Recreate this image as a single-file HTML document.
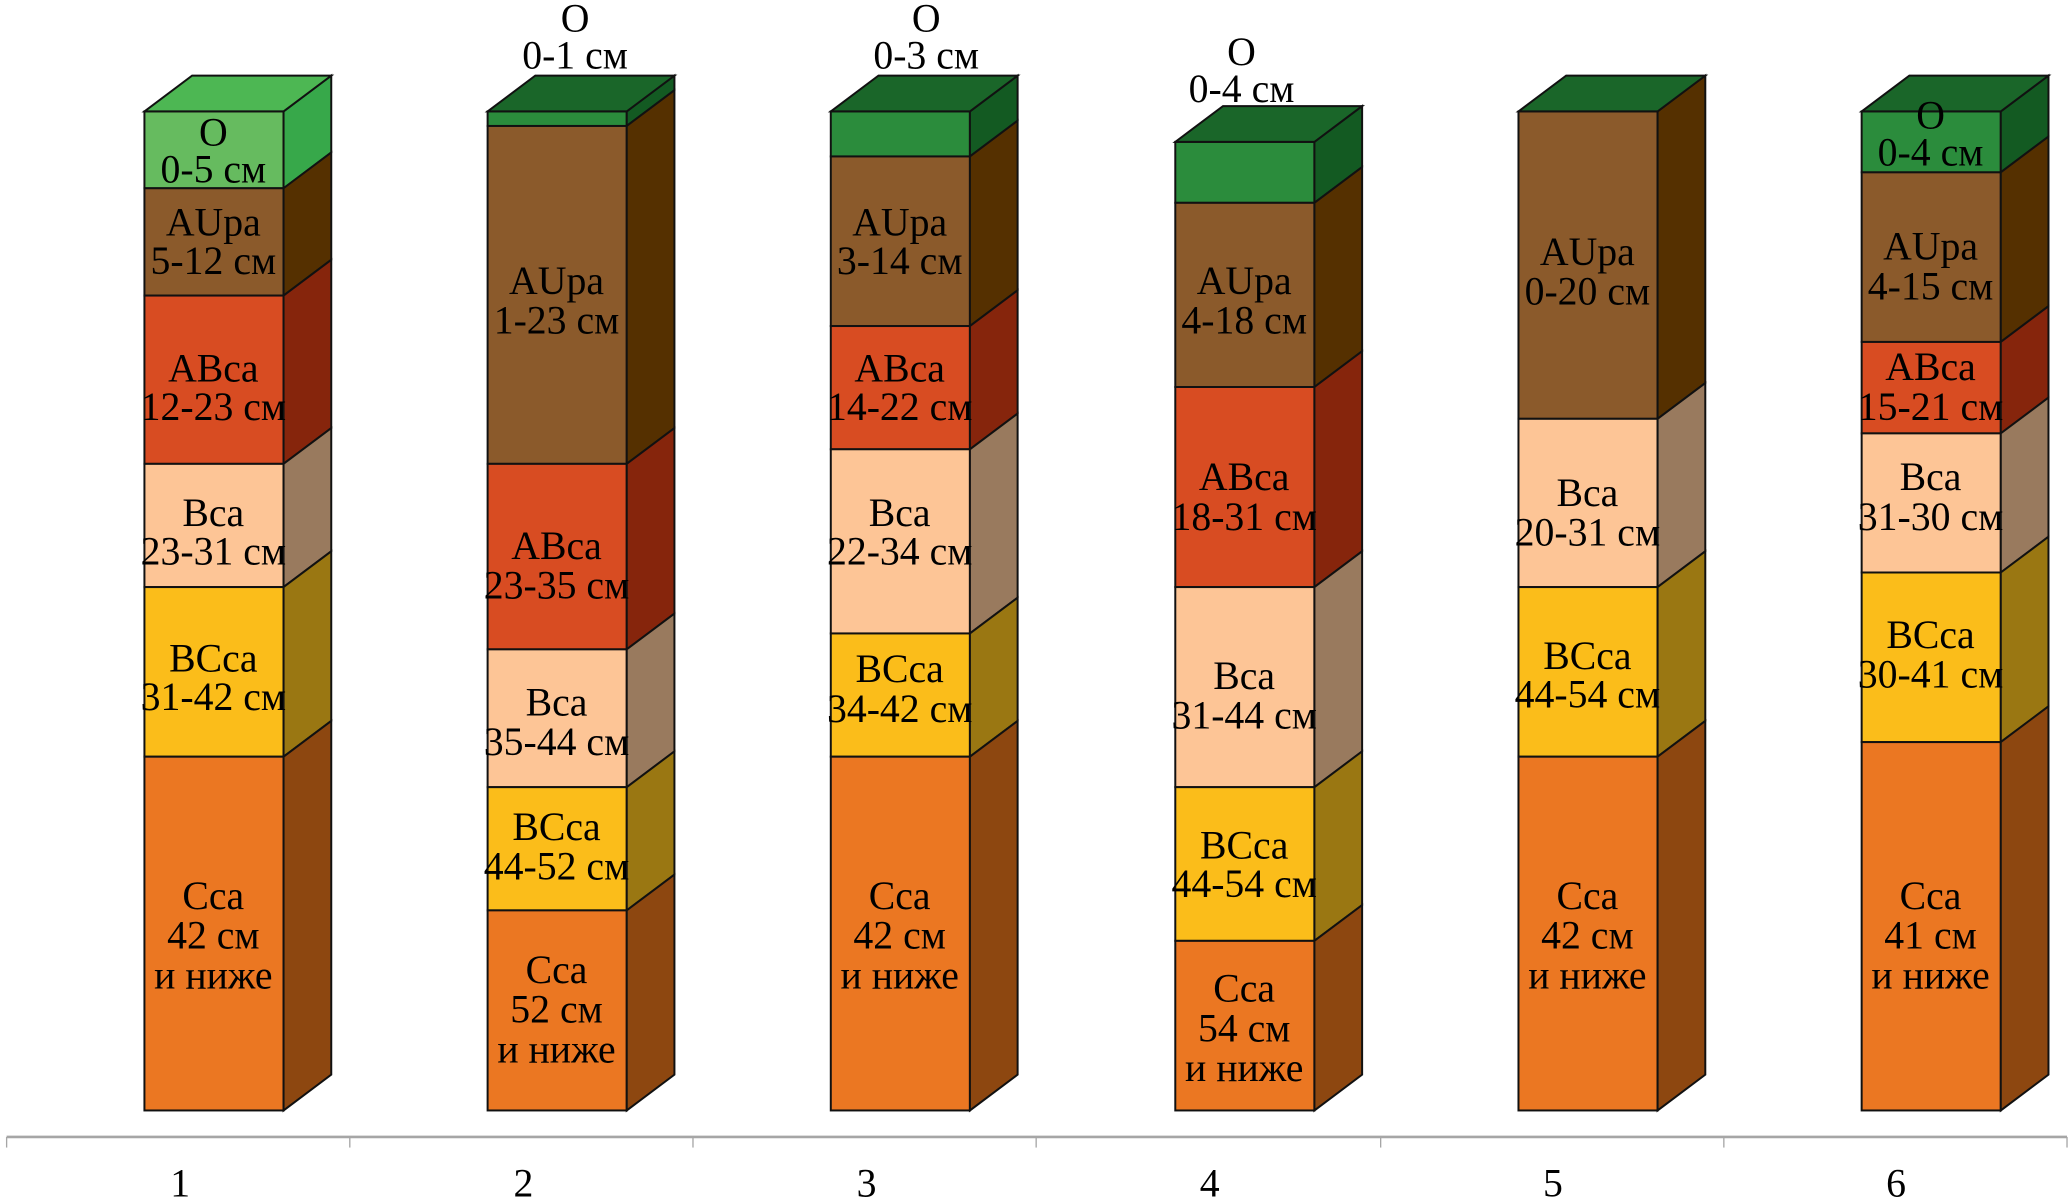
<!DOCTYPE html>
<html><head><meta charset="utf-8"><style>
html,body{margin:0;padding:0;background:#fff;}
svg{display:block}
text{font-family:"Liberation Serif",serif;font-size:30px;fill:#000;text-anchor:middle;dominant-baseline:central}
</style></head><body>
<svg id="s" width="2071" height="1198" viewBox="0 0 1563 904" xmlns="http://www.w3.org/2000/svg">
<g id="shapes"></g>
<line x1="5" y1="858" x2="1560" y2="858" stroke="#a6a6a6" stroke-width="2"/>
<g stroke="#a6a6a6" stroke-width="1">
<line x1="5" y1="858" x2="5" y2="866"/><line x1="264" y1="858" x2="264" y2="866"/><line x1="523" y1="858" x2="523" y2="866"/><line x1="782" y1="858" x2="782" y2="866"/><line x1="1042" y1="858" x2="1042" y2="866"/><line x1="1301" y1="858" x2="1301" y2="866"/><line x1="1560" y1="858" x2="1560" y2="866"/>
</g>
<g>
<text x="136" y="893">1</text><text x="395" y="893">2</text><text x="654" y="893">3</text><text x="913" y="893">4</text><text x="1172" y="893">5</text><text x="1431" y="893">6</text>
</g>
<g id="labels">
<text x="161" y="100">O</text><text x="161" y="128">0-5 см</text>
<text x="161" y="168">AUpa</text><text x="161" y="197">5-12 см</text>
<text x="161" y="278">ABca</text><text x="161" y="307">12-23 см</text>
<text x="161" y="387">Bca</text><text x="161" y="416">23-31 см</text>
<text x="161" y="497">BCca</text><text x="161" y="526">31-42 см</text>
<text x="161" y="676">Cca</text><text x="161" y="706">42 см</text><text x="161" y="736">и ниже</text>
<text x="434" y="14">O</text><text x="434" y="42">0-1 см</text>
<text x="420" y="212">AUpa</text><text x="420" y="242">1-23 см</text>
<text x="420" y="412">ABca</text><text x="420" y="442">23-35 см</text>
<text x="420" y="530">Bca</text><text x="420" y="560">35-44 см</text>
<text x="420" y="624">BCca</text><text x="420" y="654">44-52 см</text>
<text x="420" y="732">Cca</text><text x="420" y="762">52 см</text><text x="420" y="792">и ниже</text>
<text x="699" y="14">O</text><text x="699" y="42">0-3 см</text>
<text x="679" y="168">AUpa</text><text x="679" y="197">3-14 см</text>
<text x="679" y="278">ABca</text><text x="679" y="307">14-22 см</text>
<text x="679" y="387">Bca</text><text x="679" y="416">22-34 см</text>
<text x="679" y="505">BCca</text><text x="679" y="535">34-42 см</text>
<text x="679" y="676">Cca</text><text x="679" y="706">42 см</text><text x="679" y="736">и ниже</text>
<text x="937" y="39">O</text><text x="937" y="67">0-4 см</text>
<text x="939" y="212">AUpa</text><text x="939" y="242">4-18 см</text>
<text x="939" y="360">ABca</text><text x="939" y="390">18-31 см</text>
<text x="939" y="510">Bca</text><text x="939" y="540">31-44 см</text>
<text x="939" y="638">BCca</text><text x="939" y="667">44-54 см</text>
<text x="939" y="746">Cca</text><text x="939" y="776">54 см</text><text x="939" y="806">и ниже</text>
<text x="1198" y="190">AUpa</text><text x="1198" y="220">0-20 см</text>
<text x="1198" y="372">Bca</text><text x="1198" y="402">20-31 см</text>
<text x="1198" y="495">BCca</text><text x="1198" y="524">44-54 см</text>
<text x="1198" y="676">Cca</text><text x="1198" y="706">42 см</text><text x="1198" y="736">и ниже</text>
<text x="1457" y="87">O</text><text x="1457" y="115">0-4 см</text>
<text x="1457" y="186">AUpa</text><text x="1457" y="216">4-15 см</text>
<text x="1457" y="277">ABca</text><text x="1457" y="307">15-21 см</text>
<text x="1457" y="360">Bca</text><text x="1457" y="390">31-30 см</text>
<text x="1457" y="479">BCca</text><text x="1457" y="509">30-41 см</text>
<text x="1457" y="676">Cca</text><text x="1457" y="706">41 см</text><text x="1457" y="736">и ниже</text>
</g>
</svg>
<script>
var C={Ol:["#66bb5f","#37a84a","#4db753"],Od:["#2b8c3c","#135a22","#1a6629"],A:["#8b5a2b","#553000"],AB:["#d84c22","#86250c"],B:["#fdc596","#997a5e"],BC:["#fbbd1a","#9a7712"],C:["#eb7722","#8d4710"]};
var cols=[
[109,"Ol",[[84,"Ol"],[142,"A"],[223,"AB"],[350,"B"],[443,"BC"],[571,"C"],[838]]],
[368,"Od",[[84,"Od"],[95,"A"],[350,"AB"],[490,"B"],[594,"BC"],[687,"C"],[838]]],
[627,"Od",[[84,"Od"],[118,"A"],[246,"AB"],[339,"B"],[478,"BC"],[571,"C"],[838]]],
[887,"Od",[[107,"Od"],[153,"A"],[292,"AB"],[443,"B"],[594,"BC"],[710,"C"],[838]]],
[1146,"Od",[[84,"A"],[316,"B"],[443,"BC"],[571,"C"],[838]]],
[1405,"Od",[[84,"Od"],[130,"A"],[258,"AB"],[327,"B"],[432,"BC"],[560,"C"],[838]]]];
var W=105,DX=36,DY=27,h="";
cols.forEach(function(c){var x=c[0],L=c[2],t=L[0][0];
for(var i=0;i<L.length-1;i++){var y1=L[i][0],y2=L[i+1][0],k=C[L[i][1]];
h+='<rect x="'+x+'" y="'+y1+'" width="'+W+'" height="'+(y2-y1)+'" fill="'+k[0]+'" stroke="#111" stroke-width="1.5"/>';
h+='<polygon points="'+(x+W)+','+y1+' '+(x+W+DX)+','+(y1-DY)+' '+(x+W+DX)+','+(y2-DY)+' '+(x+W)+','+y2+'" fill="'+k[1]+'" stroke="#111" stroke-width="1.5"/>';}
h+='<polygon points="'+x+','+t+' '+(x+DX)+','+(t-DY)+' '+(x+W+DX)+','+(t-DY)+' '+(x+W)+','+t+'" fill="'+C[c[1]][2]+'" stroke="#111" stroke-width="1.5"/>';});
document.getElementById("shapes").innerHTML=h;
</script>
</body></html>
